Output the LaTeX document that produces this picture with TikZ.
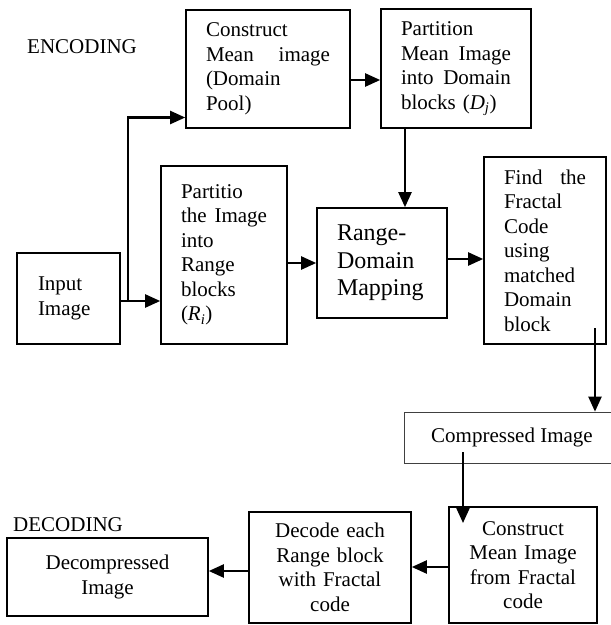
\documentclass[tikz,border=0pt]{standalone}
\usepackage{fontspec}
\setmainfont{Liberation Serif}
\usetikzlibrary{arrows.meta}
\begin{document}
\begin{tikzpicture}[x=1pt,y=-1pt,
  box/.style={draw, line width=1.6pt, inner xsep=20pt, inner ysep=0pt,
    font=\fontsize{21}{24.5}\selectfont},
  jbox/.style={box, align=left},
  cbox/.style={box, align=center},
  arr/.style={line width=2.2pt, -{Triangle[length=15pt,width=13pt]}},
  lbl/.style={font=\fontsize{21}{24}\selectfont, anchor=west, inner sep=0pt}]
\useasboundingbox (0,0) rectangle (611,625);
\clip (0,0) rectangle (611,625);

% labels
\node[lbl] (enc) at (27,47) {ENCODING};
\node[lbl] (dcd) at (13,524.5) {DECODING};

% encoding boxes
\node[jbox, minimum width=164pt, minimum height=118pt, text width=124pt] (cmi) at (268,69)
  {Construct\\Mean\hfill image\\(Domain\\Pool)};
\node[jbox, minimum width=150pt, minimum height=119pt, text width=110pt] (pmi) at (456,68.5)
  {Partition\\Mean\hfill Image\\into\hfill Domain\\blocks (\textit{D}\textsubscript{\textit{j}})};
\node[jbox, minimum width=126pt, minimum height=178pt, text width=86pt] (pri) at (224,255)
  {Partitio\\the\hfill Image\\into\\Range\\blocks\\(\textit{R}\textsubscript{\textit{i}})};
\node[jbox, inner xsep=21pt, minimum width=103pt, minimum height=91pt, text width=61pt] (inp) at (68.5,298.5)
  {Input\\Image\par\vspace*{16pt}};
\node[jbox, font=\fontsize{24}{27.5}\selectfont, minimum width=130pt, minimum height=110pt, text width=90pt] (rdm) at (382,263)
  {Range-\\Domain\\Mapping};
\node[jbox, minimum width=122pt, minimum height=187pt, text width=82pt] (ffc) at (545,250.5)
  {Find\hfill the\\Fractal\\Code\\using\\matched\\Domain\\block};

% compressed
\node[cbox, line width=0.7pt, draw=black!75, minimum width=216pt, minimum height=51pt] (cmp) at (512,437.5)
  {Compressed Image};

% decoding boxes
\node[cbox, minimum width=148pt, minimum height=116pt, text width=108pt] (cmf) at (523,565)
  {Construct\\Mean Image\\from Fractal\\code};
\node[cbox, minimum width=162pt, minimum height=111pt, text width=122pt] (dec) at (330,567.5)
  {Decode each\\Range block\\with Fractal\\code};
\node[cbox, minimum width=201pt, minimum height=78pt, text width=161pt] (dcm) at (107.5,577)
  {Decompressed\\Image};

% helper coordinates
\coordinate (br) at (128,301);
\coordinate (ct) at (128,117.5);
\coordinate (y80) at (0,80);
\coordinate (x405) at (405,0);
\coordinate (y259) at (0,259);
\coordinate (fs) at (595,328);
\coordinate (cs) at (463,452);
\coordinate (ce) at (463,523);
\coordinate (y567) at (0,567);
\coordinate (y571) at (0,571);

% connectors
\draw[arr] (inp.east |- br) -- (pri.west |- br);
\draw[arr] (br) -- (ct) -- (cmi.west |- ct);
\draw[arr] (cmi.east |- y80) -- (pmi.west |- y80);
\draw[arr] (pmi.south -| x405) -- (rdm.north -| x405);
\draw[arr] (pri.east |- rdm.west) -- (rdm.west);
\draw[arr] (rdm.east |- y259) -- (ffc.west |- y259);
\draw[arr] (fs) -- (fs |- cmp.north);
\draw[arr] (cs) -- (ce);
\draw[arr] (cmf.west |- y567) -- (dec.east |- y567);
\draw[arr] (dec.west |- y571) -- (dcm.east |- y571);
\end{tikzpicture}
\end{document}
